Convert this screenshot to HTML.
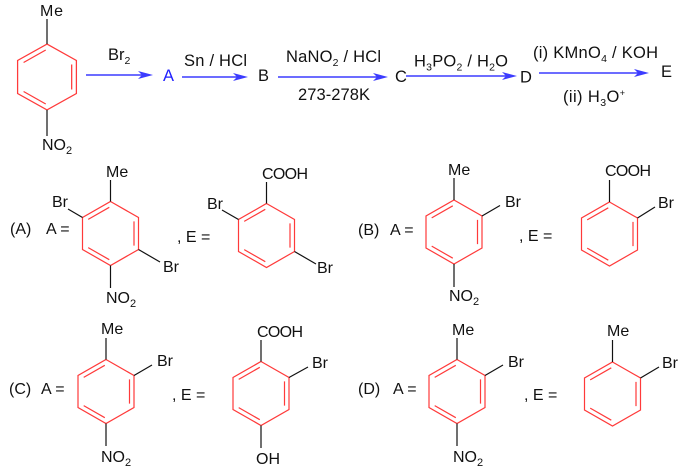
<!DOCTYPE html>
<html><head><meta charset="utf-8"><style>
html,body{margin:0;padding:0;background:#fff;}
svg{display:block;}
text{font-family:"Liberation Sans",Arial,sans-serif;fill:#111;}
</style></head><body>
<svg width="690" height="476" viewBox="0 0 690 476" xmlns="http://www.w3.org/2000/svg" font-size="16">
<!-- ===== TOP ROW ===== -->
<g transform="translate(47,77) scale(1.05,1.03)" stroke="#ff3a3a" stroke-width="1.2" fill="none">
<path d="M0,-32 L28,-16 L28,16 L0,32 L-28,16 L-28,-16 Z"/>
<path d="M-22.3,-14.1 L-1.2,-26.2 M23.5,-12.1 L23.5,12.1 M-1.2,26.2 L-22.3,14.1"/>
</g>
<g stroke="#111" stroke-width="1.2">
<line x1="47" y1="44" x2="47" y2="19"/>
<line x1="47" y1="110" x2="47" y2="136"/>
</g>
<text x="40" y="16" textLength="23">Me</text>
<text x="42" y="150">NO<tspan font-size="11" dy="4">2</tspan></text>

<!-- arrows -->
<g stroke="#3c3cff" stroke-width="1.4">
<line x1="86" y1="75" x2="145" y2="75"/>
<line x1="182" y1="77" x2="240" y2="77"/>
<line x1="278" y1="77" x2="380" y2="77"/>
<line x1="406" y1="76" x2="509" y2="76"/>
<line x1="539" y1="73" x2="641" y2="73"/>
</g>
<g fill="#3c3cff">
<polygon points="153,75 138,71 142,75 138,79"/>
<polygon points="248,77 233,73 237,77 233,81"/>
<polygon points="388,77 373,73 377,77 373,81"/>
<polygon points="517,76 502,72 506,76 502,80"/>
<polygon points="649,73 634,69 638,73 634,77"/>
</g>

<g font-size="16.5">
<text x="108" y="60">Br<tspan font-size="10.5" dy="4">2</tspan></text>
<text x="163" y="81" style="fill:#1f1fff">A</text>
<text x="184" y="66" textLength="63">Sn / HCl</text>
<text x="258" y="81">B</text>
<text x="286" y="62" textLength="95">NaNO<tspan font-size="10.5" dy="4">2</tspan><tspan dy="-4"> / HCl</tspan></text>
<text x="298" y="100" textLength="72">273-278K</text>
<text x="395" y="82">C</text>
<text x="414" y="66.5" textLength="94">H<tspan font-size="10.5" dy="4">3</tspan><tspan dy="-4">PO</tspan><tspan font-size="10.5" dy="4">2</tspan><tspan dy="-4"> / H</tspan><tspan font-size="10.5" dy="4">2</tspan><tspan dy="-4">O</tspan></text>
<text x="520" y="82.5">D</text>
<text x="533" y="58" textLength="125">(i) KMnO<tspan font-size="10.5" dy="4">4</tspan><tspan dy="-4"> / KOH</tspan></text>
<text x="563" y="102" textLength="62">(ii) H<tspan font-size="10.5" dy="4">3</tspan><tspan dy="-4">O</tspan><tspan font-size="9" dy="-6">+</tspan></text>
<text x="661" y="77">E</text>
</g>

<!-- ===== OPTION A ===== -->
<text x="10" y="234">(A)</text>
<text x="46" y="234">A =</text>
<g transform="translate(110.5,233.5)" stroke="#ff3a3a" stroke-width="1.2" fill="none">
<path d="M0,-32 L28,-16 L28,16 L0,32 L-28,16 L-28,-16 Z"/>
<path d="M-22.3,-14.1 L-1.2,-26.2 M23.5,-12.1 L23.5,12.1 M-1.2,26.2 L-22.3,14.1"/>
</g>
<g stroke="#111" stroke-width="1.2">
<line x1="110.5" y1="201.5" x2="110.5" y2="180"/>
<line x1="82.5" y1="217.5" x2="68" y2="209"/>
<line x1="138.5" y1="249.5" x2="160" y2="262"/>
<line x1="110.5" y1="265.5" x2="110.5" y2="288"/>
</g>
<text x="106" y="177">Me</text>
<text x="52" y="207">Br</text>
<text x="163" y="272">Br</text>
<text x="106" y="303">NO<tspan font-size="11" dy="4">2</tspan></text>
<text x="177" y="242">, E =</text>
<g transform="translate(266.5,235.5)" stroke="#ff3a3a" stroke-width="1.2" fill="none">
<path d="M0,-32 L28,-16 L28,16 L0,32 L-28,16 L-28,-16 Z"/>
<path d="M-22.3,-14.1 L-1.2,-26.2 M23.5,-12.1 L23.5,12.1 M-1.2,26.2 L-22.3,14.1"/>
</g>
<g stroke="#111" stroke-width="1.2">
<line x1="266.5" y1="203.5" x2="266.5" y2="182"/>
<line x1="238.5" y1="219.5" x2="222" y2="210"/>
<line x1="294.5" y1="251.5" x2="316" y2="264"/>
</g>
<text x="262" y="179" textLength="46">COOH</text>
<text x="207" y="209">Br</text>
<text x="317" y="273">Br</text>

<!-- ===== OPTION B ===== -->
<text x="358" y="235">(B)</text>
<text x="390" y="235">A =</text>
<g transform="translate(454,232)" stroke="#ff3a3a" stroke-width="1.2" fill="none">
<path d="M0,-32 L28,-16 L28,16 L0,32 L-28,16 L-28,-16 Z"/>
<path d="M-22.3,-14.1 L-1.2,-26.2 M23.5,-12.1 L23.5,12.1 M-1.2,26.2 L-22.3,14.1"/>
</g>
<g stroke="#111" stroke-width="1.2">
<line x1="454" y1="200" x2="454" y2="178"/>
<line x1="482" y1="216" x2="500" y2="205.5"/>
<line x1="454" y1="264" x2="454" y2="287"/>
</g>
<text x="448" y="175">Me</text>
<text x="505" y="207">Br</text>
<text x="449" y="301">NO<tspan font-size="11" dy="4">2</tspan></text>
<text x="519" y="241">, E =</text>
<g transform="translate(609.5,234)" stroke="#ff3a3a" stroke-width="1.2" fill="none">
<path d="M0,-32 L28,-16 L28,16 L0,32 L-28,16 L-28,-16 Z"/>
<path d="M-22.3,-14.1 L-1.2,-26.2 M23.5,-12.1 L23.5,12.1 M-1.2,26.2 L-22.3,14.1"/>
</g>
<g stroke="#111" stroke-width="1.2">
<line x1="609.5" y1="202" x2="609.5" y2="180"/>
<line x1="637.5" y1="218" x2="655" y2="207"/>
</g>
<text x="605" y="176" textLength="46">COOH</text>
<text x="658" y="208">Br</text>

<!-- ===== OPTION C ===== -->
<text x="9" y="394">(C)</text>
<text x="41" y="394">A =</text>
<g transform="translate(106,391.5)" stroke="#ff3a3a" stroke-width="1.2" fill="none">
<path d="M0,-32 L28,-16 L28,16 L0,32 L-28,16 L-28,-16 Z"/>
<path d="M-22.3,-14.1 L-1.2,-26.2 M23.5,-12.1 L23.5,12.1 M-1.2,26.2 L-22.3,14.1"/>
</g>
<g stroke="#111" stroke-width="1.2">
<line x1="106" y1="359.5" x2="106" y2="338"/>
<line x1="134" y1="375.5" x2="152" y2="365"/>
<line x1="106" y1="423.5" x2="106" y2="446"/>
</g>
<text x="101" y="334">Me</text>
<text x="157" y="366">Br</text>
<text x="101" y="462">NO<tspan font-size="11" dy="4">2</tspan></text>
<text x="172" y="400">, E =</text>
<g transform="translate(261,393.5)" stroke="#ff3a3a" stroke-width="1.2" fill="none">
<path d="M0,-32 L28,-16 L28,16 L0,32 L-28,16 L-28,-16 Z"/>
<path d="M-22.3,-14.1 L-1.2,-26.2 M23.5,-12.1 L23.5,12.1 M-1.2,26.2 L-22.3,14.1"/>
</g>
<g stroke="#111" stroke-width="1.2">
<line x1="261" y1="361.5" x2="261" y2="340"/>
<line x1="289" y1="377.5" x2="308" y2="367"/>
<line x1="261" y1="425.5" x2="261" y2="448"/>
</g>
<text x="257" y="337" textLength="46">COOH</text>
<text x="312" y="368">Br</text>
<text x="256" y="464">OH</text>

<!-- ===== OPTION D ===== -->
<text x="358" y="394">(D)</text>
<text x="393" y="394">A =</text>
<g transform="translate(457,391.5)" stroke="#ff3a3a" stroke-width="1.2" fill="none">
<path d="M0,-32 L28,-16 L28,16 L0,32 L-28,16 L-28,-16 Z"/>
<path d="M-22.3,-14.1 L-1.2,-26.2 M23.5,-12.1 L23.5,12.1 M-1.2,26.2 L-22.3,14.1"/>
</g>
<g stroke="#111" stroke-width="1.2">
<line x1="457" y1="359.5" x2="457" y2="338"/>
<line x1="485" y1="375.5" x2="503" y2="365"/>
<line x1="457" y1="423.5" x2="457" y2="446"/>
</g>
<text x="452" y="335">Me</text>
<text x="508" y="367">Br</text>
<text x="453" y="462">NO<tspan font-size="11" dy="4">2</tspan></text>
<text x="524" y="400">, E =</text>
<g transform="translate(612.5,394)" stroke="#ff3a3a" stroke-width="1.2" fill="none">
<path d="M0,-32 L28,-16 L28,16 L0,32 L-28,16 L-28,-16 Z"/>
<path d="M-22.3,-14.1 L-1.2,-26.2 M23.5,-12.1 L23.5,12.1 M-1.2,26.2 L-22.3,14.1"/>
</g>
<g stroke="#111" stroke-width="1.2">
<line x1="612.5" y1="362" x2="612.5" y2="340"/>
<line x1="640.5" y1="378" x2="659" y2="367"/>
</g>
<text x="607" y="336">Me</text>
<text x="662" y="368">Br</text>
</svg>
</body></html>
